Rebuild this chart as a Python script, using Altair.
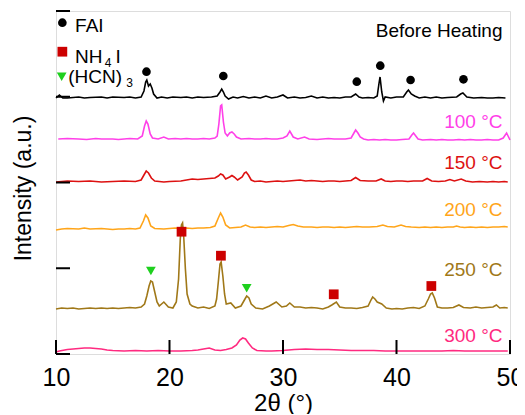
import altair as alt
import pandas as pd

# ---------------- data (2theta in degrees, intensity in a.u. incl. stacking offset) -------------
bh_x = [10.0, 10.3, 10.6, 11, 12, 12.5, 13, 14, 14.5, 15, 16, 16.5, 17, 17.5, 17.75, 17.9, 18.0, 18.15, 18.3, 18.45, 18.6, 18.9,
        19.3, 19.8, 20.3, 21, 21.5, 22, 22.5, 23, 23.7, 24.2, 24.45, 24.6, 24.75, 24.9, 25.2, 25.6, 26, 26.5, 27, 27.5, 28, 28.5,
        29, 29.5, 30, 30.4, 31, 31.5, 32, 32.5, 33, 33.5, 34, 34.5, 35, 35.5, 36.0, 36.4, 36.7, 37, 37.5, 38.0,
        38.3, 38.45, 38.55, 38.7, 38.85, 39.0, 39.5, 40, 40.6, 40.9, 41.05, 41.3, 41.6, 42, 42.5, 43, 43.5, 44, 44.5, 45.3, 45.65, 45.85,
        46.2, 46.8, 47.5, 48, 48.5, 49, 49.6]
bh_y = [256, 259, 256, 256, 257, 256, 256.5, 257, 256, 257, 256.5, 257, 256, 257, 263, 272, 274, 268, 270, 266, 260, 256,
        257, 256, 257, 256.5, 257, 256, 257, 256.5, 257, 258, 262, 265, 262, 258, 255, 257, 256, 257.5, 256, 257, 256, 258,
        256, 257, 259, 256, 257, 256, 256.5, 258, 256, 257, 256, 256.5, 256, 257, 257, 260, 257, 256, 256.5, 256,
        258, 270, 277, 262, 253, 257, 256, 257, 257, 262, 264, 260, 258, 256, 257, 256, 257, 256, 256.5, 257, 260, 261,
        257, 256, 256.5, 256, 256, 256.5, 256]

t100_x = [10.2, 11, 12, 12.7, 13.5, 14, 15, 15.5, 16, 16.5, 17.2, 17.6, 17.8, 17.95, 18.1, 18.3, 18.5, 19, 19.5, 19.9, 20.5, 21,
          21.5, 22, 22.5, 23, 23.5, 24.0, 24.2, 24.35, 24.5, 24.6, 24.75, 24.9, 25.1, 25.3, 25.5, 25.7, 25.9, 26.3, 27, 27.5, 28, 28.5, 29, 29.5,
          30.0, 30.35, 30.6, 30.9, 31.3, 31.9, 32.3, 33, 33.5, 34, 34.5, 35, 35.5, 36.0, 36.25, 36.4, 36.6, 36.8, 37.1, 37.5,
          38, 38.5, 39, 39.5, 40, 40.5, 41.1, 41.35, 41.5, 41.7, 41.9, 42.3, 43, 43.5, 44, 44.5, 45, 45.5, 46, 46.5, 47, 47.5,
          48, 48.5, 49, 49.4, 49.7, 50]
t100_y = [215, 215.5, 215, 214.5, 215.5, 215, 215, 214.5, 215, 215.5, 215, 218, 228, 233, 230, 220, 216, 215, 217, 215, 215.5, 215,
          215.5, 215, 215, 215.5, 215, 216, 218, 230, 248, 249, 232, 221, 218, 221, 222, 220, 217, 215, 215.5, 215, 215, 215.5, 215, 215,
          216, 218, 223, 217, 215, 217, 215, 214.5, 215, 215.5, 215, 215, 215, 216, 221, 224, 221, 217, 215, 214,
          214.5, 214, 214.5, 214, 214, 214.5, 215, 219, 221, 218, 215, 214, 214.5, 214, 214.5, 214, 214, 214.5, 214, 214.5, 214, 214,
          214.5, 214, 214, 216, 221, 214]

t150_x = [10.0, 11, 12, 13, 14, 15, 16, 17, 17.5, 17.75, 17.95, 18.15, 18.4, 18.7, 19.5, 20, 21, 21.5, 22, 22.5, 23, 23.5, 24.0,
          24.3, 24.5, 24.7, 24.95, 25.3, 25.5, 25.7, 26.0, 26.4, 26.6, 26.75, 26.95, 27.2, 27.5, 28, 28.5, 29, 29.5, 30, 30.5, 31, 31.5, 32, 32.5, 33,
          33.5, 34, 34.5, 35, 35.5, 36.0, 36.4, 36.8, 37.5, 38.2, 38.65, 39.0, 39.5, 40, 40.5, 41, 41.5, 42.3, 42.7,
          43.1, 43.7, 44.3, 44.7, 45.1, 45.7, 46.1, 46.7, 47.3, 48, 48.5, 49, 49.5, 49.8]
t150_y = [172, 173, 172.5, 173, 172, 172.5, 173, 172.5, 174, 179, 183, 181, 176, 173, 172, 172.5, 173, 174, 175, 174.5, 175, 175.5, 176,
          178, 180, 179, 175, 177, 178.5, 177, 174, 177, 181, 182, 179, 174, 172.5, 173, 172, 172.5, 173, 172.5, 173, 173.5, 174, 173, 173.5, 173,
          172.5, 173, 173, 172.5, 173, 173.5, 176.5, 173.5, 173, 173, 175, 173, 172.5, 173, 173, 172.5, 173, 173, 175.5,
          173, 172.5, 173, 174.5, 173, 175, 173, 172, 172.5, 172, 172.5, 172, 172.5, 172]

t200_x = [10.0, 10.5, 11, 12, 12.5, 13, 14, 14.5, 15, 15.5, 16, 16.5, 17, 17.4, 17.7, 17.9, 18.1, 18.35, 18.7, 19.5, 20, 20.5, 21,
          21.5, 22, 22.5, 23, 23.6, 24.0, 24.3, 24.5, 24.7, 24.95, 25.3, 25.8, 26.3, 26.7, 27.1, 27.5, 28, 28.5, 29, 29.5, 30,
          30.5, 30.9, 31.3, 31.8, 32.5, 33, 33.5, 34, 34.5, 35, 35.5, 36, 36.5, 37, 37.6, 38.3, 38.8, 39.2, 39.8,
          40.4, 40.8, 41.3, 42, 42.5, 43, 43.5, 44, 44.5, 45, 45.3, 45.6, 46, 46.5, 47, 47.5, 48, 48.5, 49, 49.5, 49.8]
t200_y = [124, 125, 125.5, 125, 126, 125, 125.5, 125, 124.5, 125, 125, 125.5, 125, 126, 133, 139, 136, 128, 125.5, 125, 125.5, 126, 125.5,
          126, 125.5, 126, 126, 126.5, 128, 136, 141, 137, 129, 126, 126.5, 127, 129, 127, 126.5, 127, 126.5, 127, 127.5, 127,
          128.5, 129.5, 128, 127, 127, 126.5, 127, 127, 126.5, 127, 126.5, 127, 127.5, 127, 127, 127.5, 129, 127.5, 127,
          129, 127.5, 127, 126.5, 127, 126.5, 127, 126.5, 127, 127, 128, 127, 126.5, 127, 126.5, 127, 126.5, 127, 127, 127.5, 127]

t250_x = [10.0, 10.5, 11, 11.5, 12, 12.5, 13, 13.5, 14, 14.5, 15, 15.5, 16, 16.5, 17, 17.5, 17.8, 18.0, 18.2, 18.35, 18.5,
          18.7, 18.9, 19.1, 19.5, 19.9, 20.3, 20.6, 20.8, 20.95, 21.05, 21.15, 21.25, 21.4, 21.55, 21.8, 22.0, 22.5, 23, 23.5,
          24.0, 24.15, 24.3, 24.45, 24.55, 24.7, 24.85, 25.0, 25.4, 25.8, 26.3, 26.6, 26.8, 27.0, 27.2, 27.6, 28.2, 28.8, 29.4,
          29.9, 30.3, 30.6, 31, 31.5, 32, 32.5, 33, 33.5, 34, 34.3, 34.7, 35.0, 35.5, 36, 36.5, 37, 37.5, 37.75, 37.9, 38.1, 38.3,
          38.7, 39.1, 39.6, 40, 40.5, 41, 41.5, 42, 42.5, 42.8, 43.0, 43.15, 43.35, 43.6, 44, 44.5, 45, 45.5, 45.9, 46.5, 47, 47.5,
          48, 48.5, 48.8, 49.1, 49.5, 49.8]
t250_y = [45, 46, 45.5, 46, 45, 45.5, 46, 45.5, 46, 45.5, 46, 45.5, 46, 46.5, 46, 47, 50, 58, 68, 73, 72,
          62, 52, 48, 52, 47, 46, 52, 75, 115, 129, 131, 118, 85, 60, 50, 48, 46, 47, 45.5,
          48, 55, 72, 90, 92, 78, 60, 50, 51, 46, 48, 54, 58, 56, 50, 46, 45, 48, 52,
          47, 48, 51, 47, 47, 46, 46.5, 46, 45, 47, 49, 52, 47, 46, 46, 45.5, 46.5, 48, 54, 57, 55, 52,
          50, 46, 45, 45.5, 45, 46, 46.5, 45.5, 48, 55, 60, 61, 56, 47, 46, 46, 46.5, 49, 46.5, 46, 47, 46,
          46.5, 47, 49, 46, 46.5, 46]

t300_x = [10.0, 10.3, 11, 12, 12.5, 13, 13.5, 14, 14.5, 15, 16, 17, 18, 19, 20, 21, 22, 22.5, 23, 23.5, 24, 24.5, 25,
          25.5, 25.9, 26.2, 26.45, 26.7, 26.95, 27.3, 27.7, 28.5, 29, 30, 31, 32, 33, 34, 35, 36, 37, 38, 39, 40, 41, 42,
          43, 44, 45, 46, 47, 48, 49, 49.8]
t300_y = [2, 3, 4.5, 5.5, 6, 6, 5.5, 5, 4, 3.5, 3, 3.5, 3, 3.5, 3, 3, 3.5, 4, 5, 6, 4, 3.5, 4.5,
          6, 9, 14, 16, 15, 11, 6, 3.5, 3, 3, 3.5, 4.5, 5, 4.5, 4.5, 4, 3.5, 3.5, 3.5, 3, 3, 3, 3,
          3, 3, 3.5, 3, 3, 3, 3, 3]

series = ["Before Heating", "100 °C", "150 °C", "200 °C", "250 °C", "300 °C"]
colors = ["#000000", "#FF40E8", "#DD1111", "#FFA51A", "#A07818", "#FF2A80"]
label_colors = ["#111111", "#FF22EE", "#CC2222", "#FFA520", "#8A6A1A", "#F0606E"]
label_y = [317, 226, 184.7, 138, 78.3, 12.3]

# markers: FAI (circles), NH4I (squares), (HCN)3 (down triangles)
fai_x = [17.97, 24.74, 36.5, 38.57, 41.24, 45.9]
fai_y = [282.3, 278, 272.3, 288.3, 274, 274.7]
nh4i_x = [21.06, 24.53, 34.47, 43.07]
nh4i_y = [122.3, 98.3, 59.7, 68]
hcn_x = [18.36, 26.8]
hcn_y = [83, 65.7]

x_ticks = [10, 20, 30, 40, 50]
y_ticks = [0, 85.75, 171.5, 257.25, 343]

# ---------------- build tables ----------------
xs = [bh_x, t100_x, t150_x, t200_x, t250_x, t300_x]
ys = [bh_y, t100_y, t150_y, t200_y, t250_y, t300_y]
rows = []
for s, xx, yy in zip(series, xs, ys):
    for a, b in zip(xx, yy):
        rows.append({"x": a, "y": b, "s": s})
df = pd.DataFrame(rows)

FONT = "Liberation Sans"
xsc = alt.Scale(domain=[10, 50], nice=False, zero=False)
ysc = alt.Scale(domain=[0, 343], nice=False, zero=False)
xaxis = alt.Axis(values=x_ticks, ticks=False, domain=False, grid=False,
                 labelFontSize=25, labelPadding=11, labelFont=FONT, labelColor="#000",
                 labelFlush=False, title="2θ (°)", titleFontSize=24,
                 titleFontWeight="normal", titleFont=FONT, titlePadding=1, titleColor="#000")
yaxis = alt.Axis(values=y_ticks, labels=False, ticks=False, domain=False, grid=False,
                 title="Intensity (a.u.)", titleFontSize=23, titleFontWeight="normal",
                 titleFont=FONT, titlePadding=21, titleColor="#000", titleY=177)
X = alt.X("x:Q", scale=xsc, axis=xaxis, title="2θ (°)")
Y = alt.Y("y:Q", scale=ysc, axis=yaxis, title="Intensity (a.u.)")

lines = alt.Chart(df).mark_line(strokeWidth=1.6).encode(
    x=X, y=Y,
    color=alt.Color("s:N", scale=alt.Scale(domain=series, range=colors), legend=None),
    detail="s:N",
)

xt = alt.Chart(pd.DataFrame({"x": x_ticks})).mark_rule(color="#000", strokeWidth=2).encode(
    x=X, y=alt.value(343), y2=alt.value(329))
yt = alt.Chart(pd.DataFrame({"y": y_ticks})).mark_rule(color="#000", strokeWidth=2).encode(
    y=Y, x=alt.value(0), x2=alt.value(14))

lab_df = pd.DataFrame({"t": series, "y": label_y, "x": [49.34] * 6})
labels = alt.Chart(lab_df).mark_text(align="right", baseline="alphabetic", fontSize=19, font=FONT).encode(
    x=X, y=Y, text="t:N",
    color=alt.Color("t:N", scale=alt.Scale(domain=series, range=label_colors), legend=None))

fai = alt.Chart(pd.DataFrame({"x": fai_x + [10.56], "y": fai_y + [331.3]})).mark_point(
    shape="circle", filled=True, size=75, color="#000", opacity=1).encode(x=X, y=Y)
nh = alt.Chart(pd.DataFrame({"x": nh4i_x + [10.56], "y": nh4i_y + [302.3]})).mark_point(
    shape="square", filled=True, size=95, color="#CC0000", opacity=1).encode(x=X, y=Y)
hcn = alt.Chart(pd.DataFrame({"x": hcn_x + [10.5], "y": hcn_y + [277.3]})).mark_point(
    shape="triangle-down", filled=True, size=95, color="#1ED01E", opacity=1).encode(x=X, y=Y)

# legend texts (with subscripts as separate smaller texts)
leg_main = pd.DataFrame({"t": ["FAI", "NH", "I", "(HCN)"], "x": [11.68, 11.68, 15.25, 11.08],
                         "y": [322.5, 290.7, 290.7, 270.7]})
leg_sub = pd.DataFrame({"t": ["4", "3"], "x": [14.3, 16.2], "y": [287.0, 266.7]})
legt = alt.Chart(leg_main).mark_text(align="left", baseline="alphabetic", fontSize=19, font=FONT,
                                     color="#000").encode(x=X, y=Y, text="t:N")
legs = alt.Chart(leg_sub).mark_text(align="left", baseline="alphabetic", fontSize=12, font=FONT,
                                    color="#000").encode(x=X, y=Y, text="t:N")

chart = alt.layer(lines, xt, yt, labels, fai, nh, hcn, legt, legs).properties(
    width=454, height=343, autosize="none",
    padding={"left": 48, "top": 3, "right": 7, "bottom": 60},
    background="white",
).configure_view(stroke="#000", strokeWidth=2).configure(font=FONT)

chart.save("out.html", embed_options={"renderer": "svg", "actions": False})
